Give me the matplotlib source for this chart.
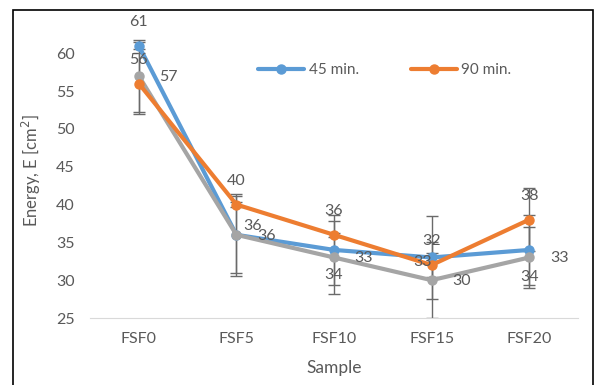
import matplotlib
matplotlib.use('Agg')
import matplotlib.pyplot as plt
from matplotlib.patches import Rectangle

plt.rcParams['font.family'] = ['Lato', 'DejaVu Sans']

# data
samples = ['FSF0', 'FSF5', 'FSF10', 'FSF15', 'FSF20']
e45 = [61, 36, 34, 33, 34]
e90 = [56, 40, 36, 32, 38]
e120 = [57, 36, 33, 30, 33]
err45 = [0.5, 5.4, 4.6, 5.5, 4.6]
err90 = [4.0, 0.3, 0.3, 1.6, 4.2]
err120 = [4.7, 5.1, 4.8, 5.0, 4.0]

blue = '#5B9BD5'
orange = '#ED7D31'
grey = '#A5A5A5'
txt = '#595959'

fig = plt.figure(figsize=(5.97, 3.85), dpi=100)
ax = fig.add_axes([90 / 597, 1 - 318 / 385, 488 / 597, (318 - 23) / 385])

x = list(range(len(samples)))
ebkw = dict(fmt='none', ecolor='#6a6a6a', elinewidth=1, capsize=4.5, capthick=1, zorder=2)
ax.errorbar(x, e45, yerr=err45, **ebkw)
ax.errorbar(x, e90, yerr=err90, **ebkw)
ax.errorbar(x, e120, yerr=err120, **ebkw)

ax.plot(x, e45, color=blue, lw=3, marker='o', ms=6.5, label='45 min.', zorder=3, solid_capstyle='round')
ax.plot(x, e90, color=orange, lw=3, marker='o', ms=6.5, label='90 min.', zorder=4, solid_capstyle='round')
ax.plot(x, e120, color=grey, lw=3, marker='o', ms=6.5, zorder=3, solid_capstyle='round')

ax.set_xlim(-0.5, 4.5)
ax.set_ylim(25, 64)
ax.set_yticks([25, 30, 35, 40, 45, 50, 55, 60])
ax.set_xticks(x)
ax.set_xticklabels(samples)
ax.tick_params(axis='both', length=0, colors=txt, labelsize=11.5)
ax.tick_params(axis='y', pad=11)
ax.tick_params(axis='x', pad=10)
for s in ['top', 'right', 'left']:
    ax.spines[s].set_visible(False)
ax.spines['bottom'].set_color('#d9d9d9')

ax.set_ylabel('Energy, E [cm$^2$]', color=txt, fontsize=12)
ax.set_xlabel('Sample', color=txt, fontsize=12.5)
ax.yaxis.set_label_coords(-0.097, 0.5)
ax.xaxis.set_label_coords(0.5, -0.142)

# data labels (offsets in pixels)
lab_kw = dict(textcoords='offset pixels', color=txt, fontsize=11.5, va='center', zorder=5)
off45 = [(0, 24), (16, 9), (0, -25), (0, -5), (0, -27)]
for xi, v, o in zip(x, e45, off45):
    ha = 'right' if o == (0, -5) else 'center'
    ax.annotate(str(v), (xi, v), xytext=o, ha=ha, **lab_kw)
for xi, v in zip(x, e90):
    ax.annotate(str(v), (xi, v), xytext=(0, 24), ha='center', **lab_kw)
for xi, v in zip(x, e120):
    ax.annotate(str(v), (xi, v), xytext=(30, -1), ha='center', **lab_kw)

ax.legend(loc='center', bbox_to_anchor=(385 / 597, 1 - 70 / 385), bbox_transform=fig.transFigure,
          ncol=2, frameon=False, fontsize=11, labelcolor=txt, handlelength=3.0,
          handletextpad=0.3, columnspacing=3.4, markerscale=1.0)

# outer border of the chart
fig.patches.append(Rectangle((13 / 597, -0.05), (593 - 13) / 597, 1.05 - 10 / 385,
                             transform=fig.transFigure, fill=False, edgecolor='black', lw=1.2))

fig.savefig('out.png', dpi=100)
